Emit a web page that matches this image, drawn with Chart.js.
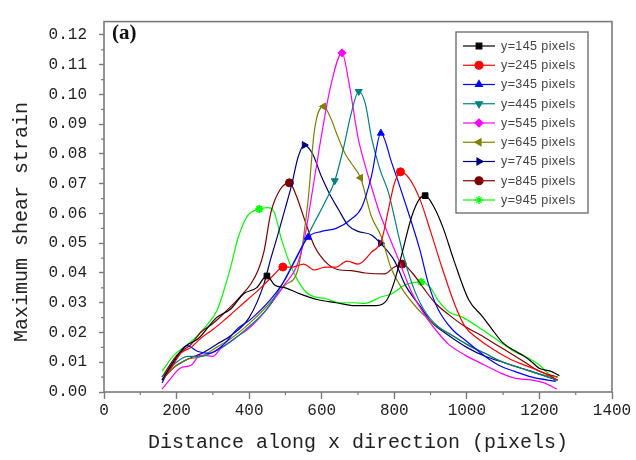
<!DOCTYPE html>
<html lang="en">
<head>
<meta charset="UTF-8">
<title>Maximum shear strain</title>
<script src="https://cdn.jsdelivr.net/npm/chart.js@4.4.0/dist/chart.umd.min.js"></script>
<style>
  html, body { margin: 0; padding: 0; background: #fff; }
</style>
</head>
<body>
<canvas id="chart" width="636" height="460"></canvas>
<script>
// legend labels and colours
const labels = ['y=145 pixels', 'y=245 pixels', 'y=345 pixels', 'y=445 pixels', 'y=545 pixels',
                'y=645 pixels', 'y=745 pixels', 'y=845 pixels', 'y=945 pixels'];
const colors = ['#000000', '#ff0000', '#0000ff', '#008080', '#ff00ff', '#808000', '#000080', '#800000', '#00ff00'];
const styles = ['rect', 'circle', 'triangle', 'triangle', 'rectRot', 'triangle', 'triangle', 'circle', 'star'];
const rotations = [0, 0, 0, 180, 0, -90, 90, 0, 0];

// y = 145
const x145 = [160,185,220,260,310,350,385,420,449,470,500,540,590,640,690,720,750,780,800,820,848,870,885,910,935,965,1005,1042,1070,1098,1130,1153,1180,1199,1230,1255];
const y145 = [0.004,0.009,0.015,0.018,0.025,0.028,0.033,0.035,0.039,0.036,0.035,0.033,0.031,0.030,0.029,0.029,0.029,0.031,0.037,0.046,0.059,0.065,0.066,0.062,0.055,0.044,0.031,0.0255,0.021,0.0167,0.014,0.0124,0.010,0.008,0.007,0.0055];
const m145 = [449, 885];
// y = 245
const x245 = [160,185,211,240,266,300,330,358,395,432,465,493,520,550,580,610,640,670,700,737,765,785,800,817,840,870,900,931,968,995,1030,1070,1120,1181,1220,1250];
const y245 = [0.004,0.008,0.013,0.015,0.018,0.021,0.024,0.027,0.031,0.035,0.039,0.042,0.042,0.043,0.041,0.042,0.042,0.044,0.043,0.047,0.051,0.062,0.070,0.074,0.072,0.065,0.054,0.042,0.029,0.022,0.018,0.0145,0.011,0.008,0.006,0.004];
const m245 = [493, 817];
// y = 345
const x345 = [160,180,205,229,257,290,330,368,400,432,465,497,530,562,600,640,680,710,737,763,793,829,870,895,920,960,1000,1050,1088,1130,1180,1245];
const y345 = [0.003,0.008,0.012,0.0156,0.0137,0.013,0.016,0.0213,0.024,0.0276,0.032,0.0374,0.045,0.052,0.054,0.055,0.058,0.062,0.0725,0.087,0.077,0.064,0.048,0.036,0.028,0.021,0.017,0.012,0.009,0.007,0.005,0.0036];
const m345 = [562, 763];
// y = 445
const x445 = [160,190,230,270,310,350,400,450,490,516,550,580,610,636,660,680,702,720,737,760,784,811,825,850,880,920,960,1000,1050,1100,1150,1200,1250];
const y445 = [0.005,0.009,0.012,0.012,0.014,0.017,0.022,0.028,0.036,0.042,0.050,0.057,0.064,0.071,0.082,0.093,0.101,0.097,0.0856,0.075,0.067,0.053,0.046,0.036,0.028,0.022,0.019,0.016,0.013,0.010,0.008,0.006,0.004];
const m445 = [636, 702];
// y = 545
const x545 = [160,180,210,240,266,300,321,360,405,450,497,530,553,575,599,625,656,675,700,720,737,760,784,810,850,886,920,950,995,1050,1100,1134,1180,1215,1248];
const y545 = [0.001,0.004,0.008,0.009,0.0124,0.012,0.0145,0.018,0.022,0.028,0.036,0.042,0.052,0.068,0.086,0.103,0.114,0.104,0.0856,0.076,0.069,0.060,0.0528,0.045,0.033,0.0255,0.020,0.016,0.0124,0.009,0.006,0.0046,0.004,0.003,0.001];
const m545 = [656];
// y = 645
const x645 = [160,190,230,270,310,350,400,450,500,534,562,580,605,625,645,665,682,707,737,765,790,820,850,880,920,960,1000,1050,1100,1150,1200,1250];
const y645 = [0.004,0.008,0.011,0.012,0.015,0.018,0.023,0.029,0.036,0.041,0.064,0.088,0.096,0.092,0.0856,0.080,0.0768,0.072,0.059,0.052,0.042,0.035,0.030,0.026,0.022,0.019,0.016,0.013,0.010,0.008,0.006,0.005];
const m645 = [605, 707];
// y = 745
const x745 = [160,190,230,270,310,350,400,440,460,479,500,516,535,552,575,599,620,645,673,700,737,762,801,830,870,904,950,1000,1050,1100,1150,1200,1250];
const y745 = [0.004,0.008,0.011,0.013,0.016,0.019,0.025,0.036,0.045,0.0528,0.062,0.069,0.079,0.083,0.080,0.0725,0.067,0.0616,0.056,0.054,0.0528,0.050,0.044,0.036,0.029,0.0233,0.019,0.015,0.012,0.010,0.008,0.006,0.004];
const m745 = [552, 762];
// y = 845
const x845 = [160,201,240,266,300,340,375,405,425,441,460,485,511,530,552,580,617,650,682,720,773,800,822,850,880,912,950,995,1040,1080,1120,1160,1200,1250];
const y845 = [0.005,0.0124,0.016,0.020,0.023,0.0276,0.032,0.0364,0.041,0.0473,0.0604,0.068,0.0703,0.066,0.0582,0.049,0.043,0.041,0.0408,0.040,0.0397,0.042,0.043,0.040,0.035,0.030,0.026,0.022,0.019,0.016,0.013,0.010,0.007,0.005];
const m845 = [511, 822];
// y = 945
const x945 = [160,190,238,280,312,335,349,370,396,428,450,469,488,516,552,580,608,650,690,718,765,793,830,874,900,920,950,990,1042,1090,1134,1160,1200,1245];
const y945 = [0.0069,0.012,0.0167,0.022,0.0276,0.036,0.042,0.052,0.0593,0.0615,0.062,0.0604,0.0518,0.042,0.0342,0.032,0.0315,0.030,0.030,0.0298,0.032,0.033,0.036,0.037,0.035,0.031,0.027,0.025,0.021,0.017,0.0134,0.012,0.009,0.0036];
const m945 = [428, 874];

// axis ticks
const xMin = 0, xMax = 1400, xStep = 200, xMinor = 100;
const yMin = 0, yMax = 0.1245, yStep = 0.01, yMinor = 0.005;
const yTicks = [0, 0.01, 0.02, 0.03, 0.04, 0.05, 0.06, 0.07, 0.08, 0.09, 0.10, 0.11, 0.12];

const xs = [x145, x245, x345, x445, x545, x645, x745, x845, x945];
const ys = [y145, y245, y345, y445, y545, y645, y745, y845, y945];
const marks = [m145, m245, m345, m445, m545, m645, m745, m845, m945];

const monoFont = "'Liberation Mono', 'DejaVu Sans Mono', monospace";
const axisColor = '#7a7a7a';

const datasets = labels.map((lab, k) => ({
    label: lab,
    data: xs[k].map((x, i) => ({ x: x, y: ys[k][i] })),
    borderColor: colors[k],
    backgroundColor: colors[k],
    borderWidth: 1.2,
    pointStyle: styles[k],
    pointRotation: rotations[k],
    pointBorderWidth: styles[k] === 'star' ? 2 : 1,
    pointRadius: ctx => marks[k].includes(xs[k][ctx.dataIndex]) ? 4 : 0,
    pointHoverRadius: 0,
    cubicInterpolationMode: 'monotone'
}));

function drawMarker(ctx, k, x, y) {
    if (Chart.helpers && Chart.helpers.drawPoint) {
        Chart.helpers.drawPoint(ctx, {
            pointStyle: styles[k], rotation: rotations[k], radius: 4,
            borderWidth: styles[k] === 'star' ? 2 : 1
        }, x, y);
    } else {
        ctx.beginPath();
        ctx.arc(x, y, 4, 0, Math.PI * 2);
        ctx.fill();
    }
}

// frame, minor ticks, y title, "(a)" and the legend box
const decorations = {
    id: 'decorations',
    afterDatasetsDraw(chart) {
        const ctx = chart.ctx;
        const a = chart.chartArea;
        const sx = chart.scales.x, sy = chart.scales.y;
        ctx.save();
        ctx.strokeStyle = axisColor;
        ctx.lineWidth = 1.6;
        ctx.strokeRect(a.left, a.top, a.right - a.left, a.bottom - a.top);

        // minor ticks
        ctx.lineWidth = 1.2;
        ctx.beginPath();
        for (let v = xMin + xMinor; v < xMax; v += xStep) {
            const px = sx.getPixelForValue(v);
            ctx.moveTo(px, a.bottom);
            ctx.lineTo(px, a.bottom + 3);
        }
        for (let v = yMin + yMinor; v < yMax; v += yStep) {
            const py = sy.getPixelForValue(v);
            ctx.moveTo(a.left, py);
            ctx.lineTo(a.left - 3, py);
        }
        ctx.stroke();

        // y axis title
        ctx.fillStyle = '#222';
        ctx.font = '20px ' + monoFont;
        ctx.textAlign = 'center';
        ctx.textBaseline = 'middle';
        ctx.translate(22, 222);
        ctx.rotate(-Math.PI / 2);
        ctx.fillText('Maximum shear strain', 0, 0);
        ctx.setTransform(1, 0, 0, 1, 0, 0);

        // panel label
        ctx.font = "bold 21px 'Liberation Serif', serif";
        ctx.textAlign = 'left';
        ctx.textBaseline = 'alphabetic';
        ctx.fillStyle = '#111';
        ctx.fillText('(a)', 112, 39);

        // legend
        const bx = 456, by = 32, bw = 132, bh = 181;
        ctx.fillStyle = '#fff';
        ctx.fillRect(bx, by, bw, bh);
        ctx.strokeStyle = '#666';
        ctx.lineWidth = 1.3;
        ctx.strokeRect(bx, by, bw, bh);
        ctx.font = "12.5px 'Liberation Sans', Arial, sans-serif";
        ctx.textBaseline = 'middle';
        if ('letterSpacing' in ctx) ctx.letterSpacing = '0.4px';
        labels.forEach((lab, k) => {
            const yy = 46 + k * 19.25;
            ctx.strokeStyle = colors[k];
            ctx.fillStyle = colors[k];
            ctx.lineWidth = 1.2;
            ctx.beginPath();
            ctx.moveTo(463, yy);
            ctx.lineTo(495, yy);
            ctx.stroke();
            drawMarker(ctx, k, 479, yy);
            ctx.fillStyle = '#444';
            ctx.fillText(lab, 501, yy + 0.5);
        });
        ctx.restore();
    }
};

new Chart(document.getElementById('chart'), {
    type: 'line',
    data: { datasets: datasets },
    options: {
        responsive: false,
        animation: false,
        layout: { padding: { top: 12, right: 24, left: 0, bottom: 0 } },
        plugins: {
            legend: { display: false },
            tooltip: { enabled: false }
        },
        scales: {
            x: {
                type: 'linear',
                min: xMin,
                max: xMax,
                ticks: {
                    stepSize: xStep,
                    maxRotation: 0,
                    padding: 2,
                    color: '#222',
                    font: { family: monoFont, size: 16 },
                    callback: v => String(v)
                },
                grid: { drawOnChartArea: false, tickLength: 7, tickColor: axisColor, tickWidth: 1.4 },
                border: { display: false },
                title: {
                    display: true,
                    text: 'Distance along x direction (pixels)',
                    color: '#222',
                    font: { family: monoFont, size: 20 },
                    padding: { top: 0, bottom: 5 }
                },
                afterFit: s => { s.height = 68; }
            },
            y: {
                type: 'linear',
                min: yMin,
                max: yMax,
                ticks: {
                    stepSize: yStep,
                    padding: 12,
                    color: '#222',
                    font: { family: monoFont, size: 16 },
                    callback: v => v.toFixed(2)
                },
                afterBuildTicks: s => {
                    s.ticks = yTicks.map(v => ({ value: v }));
                },
                grid: { drawOnChartArea: false, tickLength: 5, tickColor: axisColor, tickWidth: 1.4 },
                border: { display: false },
                afterFit: s => { s.width = 104; }
            }
        }
    },
    plugins: [decorations]
});
</script>
</body>
</html>
